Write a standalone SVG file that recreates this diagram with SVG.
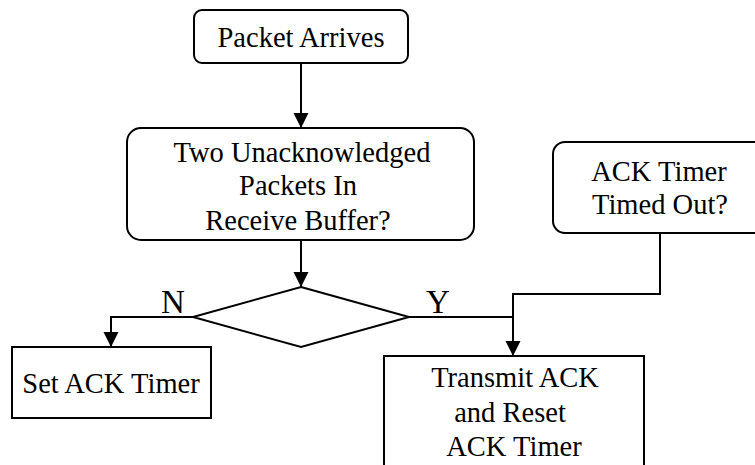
<svg xmlns="http://www.w3.org/2000/svg" width="755" height="465" viewBox="0 0 755 465">
<style>
.box{fill:#fff;stroke:#000;stroke-width:2}
.t{font-family:"Liberation Serif","Times New Roman",serif;font-size:28.5px;fill:#000;text-anchor:middle}
.lbl{font-family:"Liberation Serif","Times New Roman",serif;font-size:33px;fill:#000;text-anchor:middle}
.c{fill:none;stroke:#000;stroke-width:2}
</style>
<defs>
<marker id="ah" markerUnits="userSpaceOnUse" markerWidth="16" markerHeight="16" refX="15" refY="7.5" orient="auto">
<path d="M0,0 L15,7.5 L0,15 z" fill="#000"/>
</marker>
</defs>
<rect width="755" height="465" fill="#fff"/>
<g id="connectors">
<path class="c" d="M301,63 V128" marker-end="url(#ah)"/>
<path class="c" d="M301,240 V287" marker-end="url(#ah)"/>
<path class="c" d="M193,317 H111 V347" marker-end="url(#ah)"/>
<path class="c" d="M409,317 H513"/>
<path class="c" d="M660,233 V294 H513 V356" marker-end="url(#ah)"/>
<text class="lbl" x="173" y="313">N</text>
<text class="lbl" x="438" y="313">Y</text>
</g>
<g id="packet-arrives">
<rect class="box" x="194" y="10" width="214" height="53" rx="8"/>
<text class="t" x="301" y="47">Packet Arrives</text>
</g>
<g id="two-unack">
<rect class="box" x="127" y="128" width="347" height="112" rx="14"/>
<text class="t" x="302" y="162">Two Unacknowledged</text>
<text class="t" x="298" y="195">Packets In</text>
<text class="t" x="298" y="230">Receive Buffer?</text>
</g>
<g id="decision">
<polygon class="box" points="301,287 409,317 301,347 193,317"/>
</g>
<g id="ack-timed-out">
<rect class="box" x="553" y="142" width="214" height="91" rx="12"/>
<text class="t" x="659" y="181">ACK Timer</text>
<text class="t" x="660" y="214">Timed Out?</text>
</g>
<g id="set-ack-timer">
<rect class="box" x="12" y="347" width="199" height="71"/>
<text class="t" x="111" y="393">Set ACK Timer</text>
</g>
<g id="transmit-ack">
<rect class="box" x="384" y="356" width="260" height="130"/>
<text class="t" x="515" y="387">Transmit ACK</text>
<text class="t" x="510" y="422">and Reset</text>
<text class="t" x="514" y="456">ACK Timer</text>
</g>
</svg>
